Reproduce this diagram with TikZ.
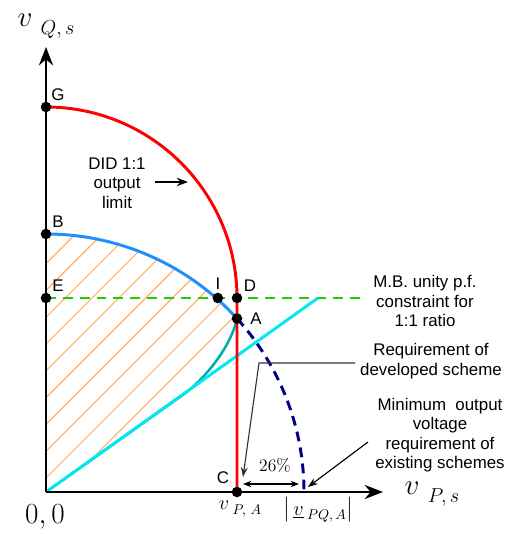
\documentclass[tikz,border=0pt]{standalone}
\usepackage{fontspec}
\usepackage{amsmath}
\usetikzlibrary{arrows.meta,positioning}
\newfontfamily\labelfont{Liberation Sans}
\definecolor{LimitRed}{HTML}{FF0000}
\definecolor{ArcBlue}{HTML}{1E8FFF}
\definecolor{LineCyan}{HTML}{00E8F0}
\definecolor{CurveTeal}{HTML}{00AEB0}
\definecolor{DashNavy}{HTML}{00008B}
\definecolor{MBGreen}{HTML}{22CC00}
\definecolor{HatchOrange}{HTML}{FFA550}
\tikzset{
  axisline/.style={line width=2pt,draw=black,-{Stealth[length=13pt,width=10pt]}},
  ptdot/.style={circle,fill=black,inner sep=0pt,minimum size=7.5pt},
  ptlbl/.style={font=\labelfont\fontsize{12}{14}\selectfont,inner sep=0pt},
  txtbox/.style={font=\labelfont\fontsize{12}{13.8}\selectfont,align=center,inner sep=0pt},
  redlim/.style={line width=2.1pt,draw=LimitRed},
  bluelim/.style={line width=2.1pt,draw=ArcBlue},
  navydash/.style={line width=2.1pt,draw=DashNavy,dash pattern=on 7pt off 4.5pt},
  mbline/.style={line width=1.6pt,draw=MBGreen,dash pattern=on 7pt off 5pt},
  cyanline/.style={line width=2.1pt,draw=LineCyan},
  tealcurve/.style={line width=1.8pt,draw=CurveTeal},
  hatchline/.style={line width=0.7pt,draw=HatchOrange},
  leader/.style={line width=0.8pt,draw=black,-{Stealth[length=7pt,width=5pt]}},
}

\begin{document}
\begin{tikzpicture}[x=0.025cm,y=0.025cm]
  \useasboundingbox (-46,-42) rectangle (463,492);
  \coordinate (O) at (0,0);
  \coordinate (yTip) at (0,445);
  \coordinate (xTip) at (337,0);
  \coordinate (gEnd) at (319,194);
  \coordinate (cEnd) at (272,194);
  \coordinate (tSplit) at (137,97.2);
  \coordinate (pG) at (0,385);
  \coordinate (pB) at (0,258);
  \coordinate (pE) at (0,194);
  \coordinate (pI) at (171.8,194);
  \coordinate (pD) at (191,194);
  \coordinate (pA) at (191,173.5);
  \coordinate (pC) at (191,0);
  % hatched region
  \begin{scope}
    \clip (0,0) -- (pB) arc (90:42.24:258)
      .. controls (184.8,144.2) and (157.4,111.7) .. (tSplit) -- (0,0);
    \foreach \c in {-12.8,14,...,260}
      \draw[hatchline] (-5,\c-5) -- ++(320,320);
  \end{scope}
  % curves
  \draw[mbline] (pE) -- (gEnd);
  \draw[tealcurve] (O) -- (tSplit) .. controls (157.4,111.7) and (184.8,144.2) .. (pA);
  \draw[cyanline] (O) -- (cEnd);
  \draw[bluelim] (pB) arc (90:42.24:258);
  \draw[navydash] (pA) arc (42.24:0:258);
  \draw[redlim] (pG) arc (90:0:191) -- (pC);
  \draw[axisline] (O) -- (yTip);
  \draw[axisline] (O) -- (xTip);
  % points
  \node[ptdot] (G) at (pG) {};
  \node[ptdot] (B) at (pB) {};
  \node[ptdot] (E) at (pE) {};
  \node[ptdot] (I) at (pI) {};
  \node[ptdot] (D) at (pD) {};
  \node[ptdot] (A) at (pA) {};
  \node[ptdot] (C) at (pC) {};
  % letters
  \node[ptlbl] (lG) at (12,397) {G};
  \node[ptlbl] (lB) at (12,270) {B};
  \node[ptlbl] (lE) at (12,206) {E};
  \node[ptlbl] (lI) at (172,208) {I};
  \node[ptlbl] (lD) at (204,206) {D};
  \node[ptlbl] (lA) at (210,173) {A};
  \node[ptlbl] (lC) at (177,14) {C};
  % axis labels
  \node[inner sep=0pt] (vQs) at (0,466)
    {\fontsize{21}{24}\selectfont$v$\;\raisebox{-6pt}{\fontsize{14}{16}\selectfont$Q,s$}};
  \node[inner sep=0pt] (vPs) at (386,-2)
    {\fontsize{21}{24}\selectfont$v$\;\raisebox{-6pt}{\fontsize{14}{16}\selectfont$P,s$}};
  \node[inner sep=0pt] (zero) at (-1,-25) {\fontsize{21}{24}\selectfont$0,0$};
  \node[inner sep=0pt] (vPA) at (194,-17)
    {\fontsize{15}{16}\selectfont$v$\,\raisebox{-3pt}{\fontsize{10}{12}\selectfont$P,\,A$}};
  \node[inner sep=0pt] (vPQA) at (272,-18)
    {\fontsize{15}{16}\selectfont$\bigl|\,\underline{v}$\,\raisebox{-3pt}{\fontsize{10}{12}\selectfont$PQ,A$}\fontsize{15}{16}\selectfont$\bigr|$};
  % texts
  \node[txtbox] (did) at (71,309) {DID 1:1\\output\\limit};
  \coordinate (didTail) at (109,310);
  \coordinate (didTip) at (142,310);
  \draw[line width=1.1pt,-{Stealth[length=8pt,width=6pt]}] (didTail) -- (didTip);
  \node[txtbox] (mb) at (379,191) {M.B. unity p.f.\\constraint for\\1:1 ratio};
  \node[txtbox] (dev) at (385,131) {Requirement of\\developed scheme};
  \node[txtbox] (exist) at (394,57) {Minimum\ \ output\\voltage\\requirement of\\existing schemes};
  % leaders
  \coordinate (devStart) at (309,129);
  \coordinate (devBend) at (213,129);
  \coordinate (devTip) at (197,15);
  \coordinate (exStart) at (322,50);
  \coordinate (exTip) at (262,5);
  \draw[leader,draw=black!80] (devStart) -- (devBend) -- (devTip);
  \draw[leader] (exStart) -- (exTip);
  % 26% span
  \coordinate (pcL) at (197,8);
  \coordinate (pcR) at (253,8);
  \draw[line width=0.8pt,{Stealth[length=6pt,width=4.5pt]}-{Stealth[length=6pt,width=4.5pt]}] (pcL) -- (pcR);
  \node[inner sep=0pt] (pct) at (229,27) {\fontsize{12.5}{14}\selectfont 26\%};
\end{tikzpicture}
\end{document}
